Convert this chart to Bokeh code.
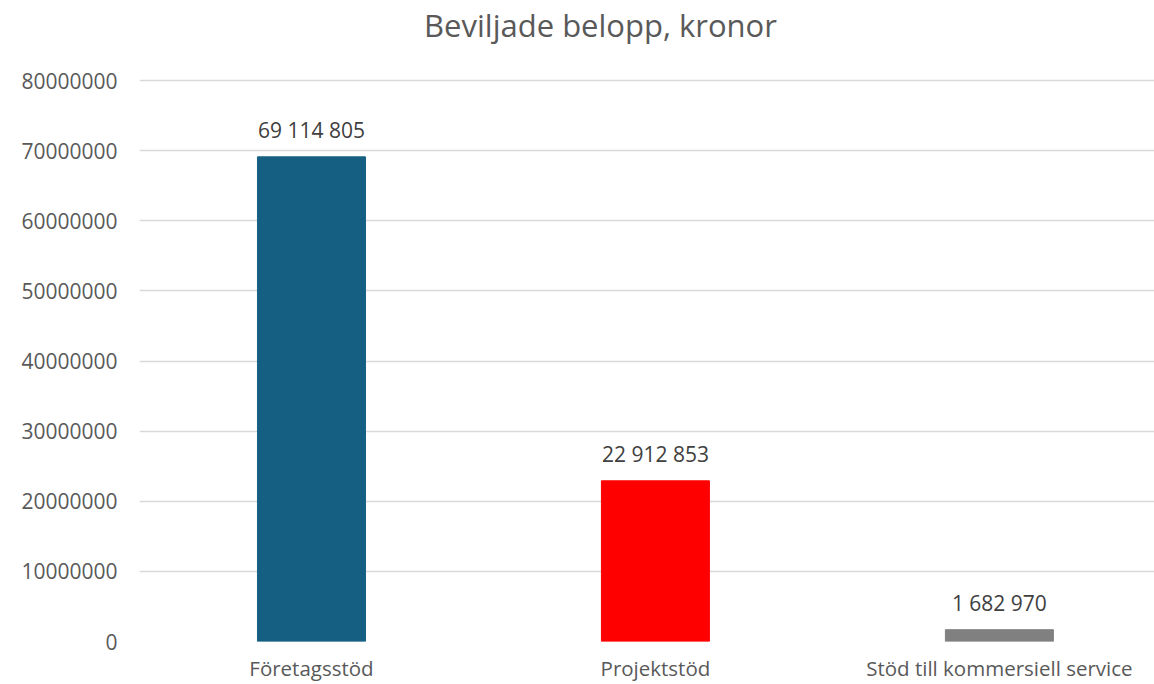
from bokeh.plotting import figure
from bokeh.models import ColumnDataSource, FixedTicker, BasicTickFormatter, Range1d, Label
from bokeh.core.properties import value
from bokeh.embed import file_html
from bokeh.resources import INLINE

categories = ["Företagsstöd", "Projektstöd", "Stöd till kommersiell service"]
amounts = [69114805, 22912853, 1682970]
colors = ["#156082", "#FF0000", "#808080"]
y_ticks = [0, 10000000, 20000000, 30000000, 40000000, 50000000, 60000000, 70000000, 80000000]
title_text = "Beviljade belopp, kronor"

FONT = "Open Sans"
xs = list(range(len(categories)))
labels = [f"{v:,}".replace(",", " ") for v in amounts]

# layout: frame spans the full height above the x axis; the 80M gridline sits 80px from the top
W, H = 1154, 684
BOTTOM = 43
frame_h = H - BOTTOM
top_gap = 80
y_end = y_ticks[-1] * frame_h / (frame_h - top_gap)

src = ColumnDataSource(dict(x=xs, top=amounts, color=colors, label=labels))

p = figure(width=W, height=H, output_backend="svg", toolbar_location=None,
           x_range=Range1d(-0.5, 2.451), y_range=Range1d(0, y_end),
           min_border_left=139, min_border_right=0, min_border_top=0, min_border_bottom=BOTTOM)

# title drawn inside the frame (screen units relative to frame, origin bottom-left)
p.add_layout(Label(x=461, y=frame_h - 24, x_units="screen", y_units="screen", text=title_text,
                   text_align="center", text_baseline="middle", text_font=FONT,
                   text_font_size="31px", text_color="#595959"))

p.vbar(x="x", top="top", width=0.314, bottom=0, color="color", source=src)
p.text(x="x", y="top", text="label", source=src, text_align="center",
       text_baseline="bottom", y_offset=-13, text_font=value(FONT),
       text_font_size="21px", text_color="#404040")

p.outline_line_color = None
p.background_fill_color = "white"
p.border_fill_color = "white"

p.xgrid.grid_line_color = None
p.ygrid.grid_line_color = "#d9d9d9"
p.ygrid.grid_line_width = 1.5

p.yaxis.ticker = FixedTicker(ticks=y_ticks)
p.yaxis.formatter = BasicTickFormatter(use_scientific=False)
p.yaxis.axis_line_color = None
p.yaxis.major_tick_line_color = None
p.yaxis.minor_tick_line_color = None
p.yaxis.major_tick_out = 0
p.yaxis.major_label_standoff = 22
p.yaxis.major_label_text_font = FONT
p.yaxis.major_label_text_font_size = "21px"
p.yaxis.major_label_text_color = "#595959"

p.xaxis.ticker = FixedTicker(ticks=xs)
p.xaxis.major_label_overrides = {i: c for i, c in enumerate(categories)}
p.xaxis.axis_line_color = None
p.xaxis.major_tick_line_color = None
p.xaxis.minor_tick_line_color = None
p.xaxis.major_tick_out = 0
p.xaxis.major_label_standoff = 12
p.xaxis.major_label_text_font = FONT
p.xaxis.major_label_text_font_size = "20.5px"
p.xaxis.major_label_text_color = "#595959"

open("out.html", "w").write(file_html(p, INLINE))
